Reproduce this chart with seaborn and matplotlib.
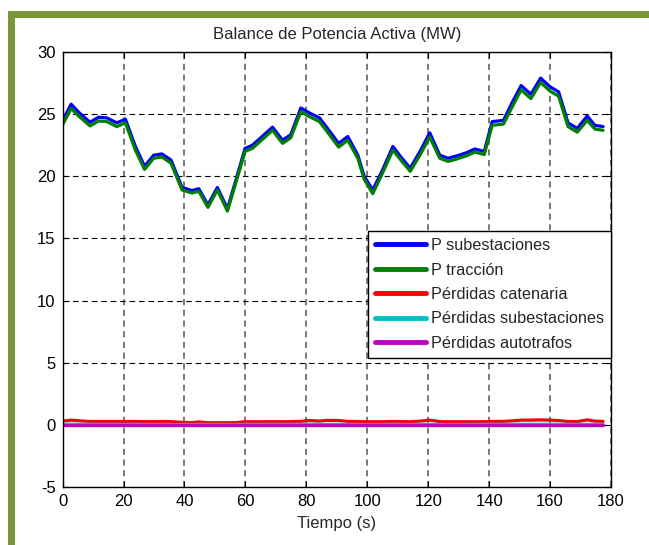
import numpy as np
import pandas as pd
import matplotlib
matplotlib.use("Agg")
import matplotlib.pyplot as plt
from matplotlib.patches import Rectangle
import seaborn as sns

# Time stamps (s)
tiempo = [0, 2.8, 5.5, 9.0, 11.8, 14.5, 17.8, 20.6, 23.9, 26.9, 29.9, 32.6, 35.6,
          39.2, 42.5, 44.7, 47.7, 50.8, 54.1, 57.0, 59.9, 62.3, 65.5, 68.9, 72.2,
          74.9, 78.2, 81.0, 84.3, 86.5, 90.6, 93.6, 96.9, 99.0, 101.8, 105.0, 108.4,
          111.2, 114.1, 117.3, 120.5, 123.8, 126.5, 129.5, 132.6, 135.3, 138.4, 141.0,
          144.7, 147.5, 150.5, 153.7, 156.9, 160.0, 162.8, 165.9, 168.9, 172.2, 174.7,
          177.4]

# Power delivered by substations (MW)
p_subestaciones = [24.5, 25.8, 25.1, 24.35, 24.75, 24.7, 24.3, 24.6, 22.4, 20.8, 21.7,
                   21.8, 21.3, 19.1, 18.85, 19.0, 17.7, 19.1, 17.4, 19.8, 22.25, 22.5,
                   23.2, 23.95, 22.9, 23.35, 25.5, 25.1, 24.7, 24.0, 22.65, 23.2, 21.7,
                   20.0, 18.9, 20.5, 22.4, 21.5, 20.65, 22.0, 23.5, 21.7, 21.45, 21.65,
                   21.9, 22.2, 22.0, 24.4, 24.5, 25.9, 27.3, 26.6, 27.9, 27.2, 26.8,
                   24.3, 23.85, 24.85, 24.1, 24.0]

# Traction power (MW)
p_traccion = [24.15, 25.45, 24.8, 24.05, 24.45, 24.4, 24.0, 24.3, 22.1, 20.55, 21.45,
              21.55, 21.05, 18.9, 18.65, 18.8, 17.5, 18.9, 17.2, 19.6, 22.0, 22.25,
              22.95, 23.7, 22.65, 23.1, 25.2, 24.8, 24.4, 23.7, 22.35, 22.9, 21.45,
              19.75, 18.6, 20.25, 22.1, 21.25, 20.4, 21.7, 23.15, 21.45, 21.2, 21.4,
              21.65, 21.95, 21.75, 24.1, 24.2, 25.55, 26.95, 26.25, 27.55, 26.85, 26.45,
              24.0, 23.55, 24.5, 23.8, 23.7]

# Catenary losses (MW)
perd_catenaria = [0.3, 0.38, 0.33, 0.27, 0.27, 0.27, 0.27, 0.27, 0.27, 0.26, 0.26,
                  0.27, 0.26, 0.2, 0.18, 0.24, 0.17, 0.17, 0.17, 0.18, 0.25, 0.25,
                  0.25, 0.26, 0.25, 0.26, 0.28, 0.36, 0.3, 0.36, 0.35, 0.28, 0.27,
                  0.25, 0.25, 0.25, 0.27, 0.26, 0.25, 0.3, 0.38, 0.26, 0.25, 0.25,
                  0.25, 0.25, 0.25, 0.27, 0.28, 0.32, 0.38, 0.38, 0.4, 0.38, 0.35,
                  0.27, 0.26, 0.4, 0.3, 0.28]

# Substation losses (MW)
perd_subestaciones = [0.04, 0.05, 0.05, 0.04, 0.04, 0.04, 0.04, 0.04, 0.04, 0.03, 0.03,
                      0.03, 0.03, 0.03, 0.03, 0.03, 0.03, 0.03, 0.03, 0.03, 0.04, 0.04,
                      0.04, 0.04, 0.04, 0.04, 0.05, 0.05, 0.04, 0.04, 0.04, 0.04, 0.03,
                      0.03, 0.03, 0.03, 0.04, 0.03, 0.03, 0.04, 0.04, 0.03, 0.03, 0.03,
                      0.03, 0.04, 0.04, 0.04, 0.04, 0.05, 0.05, 0.05, 0.05, 0.05, 0.05,
                      0.04, 0.04, 0.04, 0.04, 0.04]

# Autotransformer losses (MW)
perd_autotrafos = [0.0] * len(tiempo)

series = [
    ("P subestaciones", p_subestaciones, "#0000ff"),
    ("P tracción", p_traccion, "#008000"),
    ("Pérdidas catenaria", perd_catenaria, "#ff0000"),
    ("Pérdidas subestaciones", perd_subestaciones, "#00bfbf"),
    ("Pérdidas autotrafos", perd_autotrafos, "#bf00bf"),
]

df = pd.DataFrame({"t": tiempo})
for name, vals, _ in series:
    df[name] = vals
long = df.melt(id_vars="t", var_name="serie", value_name="P")

sns.set_theme(style="white")
plt.rcParams["font.family"] = ["Liberation Sans", "DejaVu Sans"]
plt.rcParams["axes.unicode_minus"] = False

fig = plt.figure(figsize=(6.49, 5.45), dpi=100)
fig.patch.set_facecolor("white")

# Olive frame around the panel
olive = "#7a963a"
fig.add_artist(Rectangle((8 / 649, 1 - 18 / 545), 1 - 8 / 649, 7 / 545,
                         transform=fig.transFigure, facecolor=olive, edgecolor="none"))
fig.add_artist(Rectangle((8 / 649, 0), 7 / 649, 1 - 11 / 545,
                         transform=fig.transFigure, facecolor=olive, edgecolor="none"))

ax = fig.add_axes([62.6 / 649, 1 - 487 / 545, (611 - 62.6) / 649, (487 - 52) / 545])

palette = {name: c for name, _, c in series}
sns.lineplot(data=long, x="t", y="P", hue="serie", palette=palette,
             hue_order=[s[0] for s in series], linewidth=2.3, ax=ax, legend=True)

ax.set_xlim(0, 180)
ax.set_ylim(-5, 30)
ax.set_xticks(np.arange(0, 181, 20))
ax.set_yticks(np.arange(-5, 31, 5))
ax.xaxis.grid(True, color="#555555", linestyle=(0, (4, 3)), linewidth=1.1)
ax.yaxis.grid(True, color="black", linestyle=(0, (5, 3.5)), linewidth=0.8)
for s in ax.spines.values():
    s.set_color("black")
    s.set_linewidth(1.0)
ax.tick_params(direction="in", length=4, width=0.8, colors="black", labelsize=12,
               top=True, right=True, bottom=True, left=True, pad=5)
ax.set_title("Balance de Potencia Activa (MW)", fontsize=12, pad=9)
ax.set_xlabel("Tiempo (s)", fontsize=12, labelpad=5)
ax.set_ylabel("")

leg = ax.legend(loc="upper right", bbox_to_anchor=(1.0, 0.589), fontsize=11.7,
                frameon=True, fancybox=False, edgecolor="black", framealpha=1,
                handlelength=3.1, handletextpad=0.3, labelspacing=0.58,
                borderpad=0.45, borderaxespad=0)
leg.get_frame().set_linewidth(1.0)
for line in leg.get_lines():
    line.set_linewidth(3.5)

fig.savefig("out.png", dpi=100)
